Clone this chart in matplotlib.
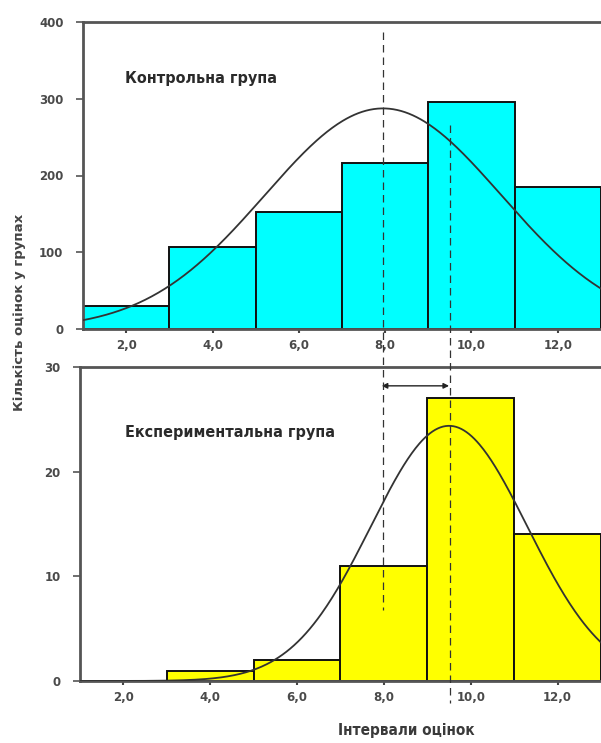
import numpy as np
import matplotlib
matplotlib.use("Agg")
import matplotlib.pyplot as plt
from matplotlib import transforms
from matplotlib.lines import Line2D

# Histogram bins (interval edges of the grades)
bin_edges = [1, 3, 5, 7, 9, 11, 13]

# Control group counts per interval
control_counts = [30, 107, 153, 216, 296, 185]
control_mean = 7.95
control_sd = 2.74

# Experimental group counts per interval
exp_counts = [0, 1, 2, 11, 27, 14]
exp_mean = 9.5
exp_sd = 1.80

x_ticks = [2, 4, 6, 8, 10, 12]
x_tick_labels = ["2,0", "4,0", "6,0", "8,0", "10,0", "12,0"]
control_yticks = [0, 100, 200, 300, 400]
exp_yticks = [0, 10, 20, 30]

title_control = "Контрольна група"
title_exp = "Експериментальна група"
ylabel = "Кількість оцінок у групах"
xlabel = "Інтервали оцінок"

W, H = 601, 743
fig = plt.figure(figsize=(W / 100, H / 100), dpi=100)

narrow = dict(family="DejaVu Sans", stretch="condensed", weight="bold")
tick_font = dict(family="DejaVu Sans", size=8.5, weight="bold", color="#4a4a4a")
spine_color = "#555555"


def px_axes(left, top, right, bottom):
    return fig.add_axes([left / W, 1 - bottom / H, (right - left) / W,
                         (bottom - top) / H])


def normal_curve(counts, mean, sd, xs):
    n = sum(counts)
    width = bin_edges[1] - bin_edges[0]
    return n * width / (sd * np.sqrt(2 * np.pi)) * np.exp(-0.5 * ((xs - mean) / sd) ** 2)


def draw_panel(ax, counts, color, mean, sd, ylim, yticks, title, title_xy):
    lefts = bin_edges[:-1]
    widths = np.diff(bin_edges)
    ax.bar(lefts, counts, width=widths, align="edge", color=color,
           edgecolor="#111111", linewidth=1.4, zorder=2)
    xs = np.linspace(bin_edges[0], bin_edges[-1], 400)
    ax.plot(xs, normal_curve(counts, mean, sd, xs), color="#333333",
            lw=1.3, zorder=3)
    ax.set_xlim(bin_edges[0], bin_edges[-1])
    ax.set_ylim(*ylim)
    ax.set_xticks(x_ticks)
    ax.set_xticklabels(x_tick_labels, fontdict=tick_font)
    ax.set_yticks(yticks)
    ax.set_yticklabels([str(v) for v in yticks], fontdict=tick_font)
    ax.tick_params(axis="x", length=3, width=1.5, color="#444444", pad=4)
    ax.tick_params(axis="y", length=5, width=1.2, color="#555555", pad=9)
    for s in ["left", "top", "bottom"]:
        ax.spines[s].set_color(spine_color)
        ax.spines[s].set_linewidth(2)
    ax.spines["right"].set_visible(False)
    ax.text(title_xy[0], title_xy[1], title, transform=ax.transAxes,
            fontsize=11.5, color="#2a2a2a", va="center", ha="left", **narrow)


ax1 = px_axes(83, 22, 601, 329)
draw_panel(ax1, control_counts, "#00FFFF", control_mean, control_sd,
           (0, 400), control_yticks, title_control,
           ((125 - 83) / (601 - 83), 1 - (78 - 22) / (329 - 22)))

ax2 = px_axes(80, 367, 601, 681)
draw_panel(ax2, exp_counts, "#FFFF00", exp_mean, exp_sd,
           (0, 30), exp_yticks, title_exp,
           ((125 - 80) / (601 - 80), 1 - (433 - 367) / (681 - 367)))

# Dashed lines marking the group means, running across both panels
trans = transforms.blended_transform_factory(ax1.transData, fig.transFigure)
fig.add_artist(Line2D([control_mean, control_mean], [1 - 32 / H, 1 - 610 / H],
                      transform=trans, color="#333333", lw=0.9,
                      linestyle=(0, (6, 4))))
fig.add_artist(Line2D([exp_mean, exp_mean], [1 - 125 / H, 1 - 703 / H],
                      transform=trans, color="#333333", lw=0.9,
                      linestyle=(0, (6, 4))))

# Shift between the means
ax2.annotate("", xy=(control_mean, 28.2), xytext=(exp_mean, 28.2),
             arrowprops=dict(arrowstyle="<|-|>", color="#222222", lw=1.0,
                             mutation_scale=8, shrinkA=0, shrinkB=0))

fig.text(20 / W, 1 - 312 / H, ylabel, rotation=90, ha="center", va="center",
         family="DejaVu Sans", weight="bold", fontsize=9.5, color="#444444")
fig.text(406 / W, 1 - 731 / H, xlabel, ha="center", va="center",
         fontsize=11, color="#3a3a3a", **narrow)

fig.savefig("out.png", dpi=100)
